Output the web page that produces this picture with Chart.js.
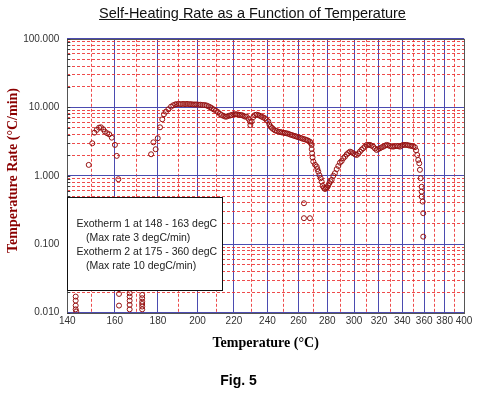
<!DOCTYPE html>
<html><head><meta charset="utf-8">
<script src="https://cdn.jsdelivr.net/npm/chart.js@4.4.0/dist/chart.umd.min.js"></script>
<style>
html,body{margin:0;padding:0;background:#fff;}
#wrap{position:relative;width:477px;height:394px;overflow:hidden;}
canvas{position:absolute;left:0;top:0;}
#title{position:absolute;left:0;width:505px;top:5px;text-align:center;font:14.5px "Liberation Sans",Arial,sans-serif;text-decoration:underline;color:#111;white-space:nowrap;}
#fig{position:absolute;left:0;width:477px;top:372px;text-align:center;font:bold 14px "Liberation Sans",Arial,sans-serif;color:#000;}
</style></head>
<body><div id="wrap"><canvas id="c" width="477" height="394" style="width:477px;height:394px"></canvas>
<div id="title">Self-Heating Rate as a Function of Temperature</div>
<div id="fig">Fig. 5</div></div>
<script>
// Temperature (degC) of each measured point
const temperatures = [
  143.4,143.4,143.4,143.4,143.6,
  140.3,140.3,140.3,
  148.8,150.3,151.2,152.2,153.2,154.0,155.0,155.7,156.7,157.6,158.7,160.1,160.9,161.6,
  161.9,161.9,166.7,166.7,166.7,166.7,166.7,172.5,172.5,172.5,172.5,172.5,172.5,
  176.7,177.8,178.9,179.9,181.0,182.1,182.9,183.9,185.1,186.4,187.5,188.5,189.2,190.3,191.4,192.5,193.5,194.5,195.6,196.6,197.6,198.6,199.6,200.7,201.7,202.7,203.8,204.9,205.9,206.8,207.6,208.7,209.9,211.0,212.1,213.0,214.0,215.0,215.9,217.0,218.0,218.7,219.8,220.8,221.6,222.6,223.5,224.5,225.5,226.4,227.4,228.5,229.4,229.6,230.4,231.4,232.4,233.4,234.4,235.4,236.4,237.4,238.5,239.5,240.5,241.2,242.0,242.8,243.6,244.7,245.8,247.0,248.0,249.0,250.1,251.1,252.2,253.3,254.4,255.5,256.6,257.7,258.8,259.9,261.0,262.1,263.2,264.4,265.5,266.6,267.8,268.4,269.0,269.0,269.3,269.6,270.1,271.3,272.5,273.0,273.6,274.4,275.3,276.0,276.7,277.5,278.4,279.2,280.0,280.7,281.5,282.3,283.2,284.4,285.6,286.9,288.1,289.3,290.6,291.8,293.1,294.4,295.6,296.9,298.1,299.4,300.8,302.1,303.4,304.6,305.9,307.2,308.6,310.0,311.2,312.6,313.9,315.3,316.7,318.1,319.5,320.8,322.2,323.6,325.0,326.4,327.8,329.2,330.7,332.1,333.5,335.0,336.4,337.9,339.3,340.8,342.3,343.9,345.4,346.9,348.4,349.9,351.4,352.5,353.5,354.4,355.4,356.0,356.7,357.6,357.6,357.6,358.6,359.1,359.1,
  263.7,263.7,267.8
];
// Self-heating rate (degC/min) of each measured point
const rates = [
  0.0172,0.0150,0.0127,0.0112,0.0104,
  0.35,0.30,0.26,
  1.44,2.98,4.26,4.67,5.04,5.10,4.77,4.41,4.17,4.03,3.60,2.82,1.95,0.89,
  0.0188,0.0127,0.0193,0.0172,0.0150,0.0130,0.0112,0.0182,0.0163,0.0145,0.0134,0.0123,0.0112,
  2.06,3.08,2.44,3.53,5.1,6.68,7.91,8.63,9.35,10.2,10.7,11.0,11.1,11.2,11.1,11.2,11.1,11.2,11.1,11.1,11.0,11.0,11.0,10.9,10.9,10.8,10.8,10.6,10.3,10.0,9.7,9.3,8.9,8.5,8.0,7.7,7.5,7.3,7.3,7.5,7.6,7.7,7.9,7.9,7.9,7.8,7.7,7.7,7.5,7.3,7.3,6.8,6.2,5.5,6.2,7.2,7.7,7.8,7.7,7.5,7.3,7.1,6.9,6.5,6.2,5.6,5.2,5.0,4.8,4.6,4.5,4.4,4.35,4.3,4.25,4.2,4.17,4.1,4.0,3.94,3.85,3.8,3.72,3.65,3.6,3.53,3.45,3.4,3.33,3.25,3.15,3.0,2.82,2.45,2.13,1.85,1.61,1.45,1.36,1.25,1.15,1.02,0.92,0.82,0.71,0.67,0.64,0.66,0.68,0.72,0.78,0.83,0.87,1.0,1.09,1.25,1.39,1.55,1.64,1.80,1.90,2.05,2.15,2.25,2.2,2.13,2.05,2.01,2.1,2.25,2.4,2.52,2.66,2.82,2.82,2.82,2.75,2.66,2.5,2.38,2.45,2.52,2.6,2.66,2.75,2.82,2.78,2.72,2.68,2.66,2.7,2.72,2.7,2.66,2.75,2.82,2.82,2.82,2.78,2.75,2.72,2.68,2.61,2.35,2.01,1.70,1.52,1.22,0.92,0.69,0.586,0.495,0.419,0.284,0.129,
  0.397,0.240,0.240
];
const xTickTemps = [140,150,160,170,180,190,200,210,220,230,240,250,260,270,280,290,300,310,320,330,340,350,360,370,380,390,400];
const yTickValues = [0.01,0.02,0.03,0.04,0.05,0.06,0.07,0.08,0.09,0.1,0.2,0.3,0.4,0.5,0.6,0.7,0.8,0.9,1,2,3,4,5,6,7,8,9,10,20,30,40,50,60,70,80,90,100];
const annotationLines = [
  "Exotherm 1 at 148 - 163 degC",
  "  (Max rate 3 degC/min)",
  "Exotherm 2 at 175 - 360 degC",
  "  (Max rate 10 degC/min)"
];

// Arrhenius-type axis: position proportional to -1/T(K)
const inv = t => -1000 / (t + 273.15);
const isDecade = v => Math.abs(Math.log10(v) - Math.round(Math.log10(v))) < 1e-6;
const BLUE = '#4b4bb0', RED = 'rgba(235,45,45,0.85)';

const points = temperatures.map((t, i) => ({x: inv(t), y: rates[i]}));

const framePlugin = {
  id: 'frameAndNote',
  afterDatasetsDraw(chart) {
    const {ctx, chartArea: a} = chart;
    ctx.save();
    ctx.strokeStyle = '#555';
    ctx.lineWidth = 1;
    ctx.strokeRect(Math.round(a.left) + 0.5, Math.round(a.top) + 0.5, Math.round(a.right - a.left), Math.round(a.bottom - a.top));
    // short inward tick marks on the left axis
    const ys = chart.scales.y;
    ctx.strokeStyle = '#333';
    ctx.beginPath();
    yTickValues.forEach(v => {
      const py = Math.round(ys.getPixelForValue(v)) + 0.5;
      ctx.moveTo(a.left, py); ctx.lineTo(a.left + 3, py);
    });
    ctx.stroke();
    // note box
    const bx = Math.round(a.left) + 0.5, by = 197.5, bw = 155, bh = 93;
    ctx.fillStyle = '#fff';
    ctx.fillRect(bx, by, bw, bh);
    ctx.strokeStyle = '#111';
    ctx.strokeRect(bx, by, bw, bh);
    ctx.fillStyle = '#222';
    ctx.font = '10.5px "Liberation Sans", Arial, sans-serif';
    ctx.textBaseline = 'middle';
    ctx.textAlign = 'left';
    annotationLines.forEach((s, i) => {
      const indent = s.startsWith('  ') ? 9.4 : 0;
      ctx.fillText(s.trim(), bx + 9 + indent, 224.5 + i * 14);
    });
    ctx.restore();
  }
};

new Chart(document.getElementById('c'), {
  type: 'scatter',
  data: { datasets: [{
    data: points,
    pointStyle: 'circle',
    pointRadius: 2.5,
    pointHoverRadius: 2.5,
    borderWidth: 1,
    borderColor: '#961212',
    backgroundColor: 'rgba(0,0,0,0)'
  }]},
  options: {
    responsive: false,
    animation: false,
    events: [],
    layout: { padding: { left: 4.6, top: 38.8, right: 13, bottom: 42.3 } },
    plugins: { legend: { display: false }, tooltip: { enabled: false }, title: { display: false } },
    scales: {
      x: {
        type: 'linear',
        min: inv(140), max: inv(400),
        afterBuildTicks: s => { s.ticks = xTickTemps.map(t => ({value: inv(t)})); },
        afterFit: s => { s.height = 39; },
        ticks: {
          autoSkip: false, maxRotation: 0, padding: 3,
          color: '#333',
          font: { family: '"Liberation Sans", Arial, sans-serif', size: 10 },
          callback: (v, i) => (xTickTemps[i] % 20 === 0 ? String(xTickTemps[i]) : '')
        },
        grid: {
          drawTicks: false,
          lineWidth: 1,
          color: c => (c.index !== undefined && xTickTemps[c.index] % 20 === 0 ? BLUE : RED)
        },
        border: {
          display: false,
          dash: c => (c.index !== undefined && xTickTemps[c.index] % 20 === 0 ? [] : [3, 2])
        },
        title: {
          display: true, text: 'Temperature (°C)', color: '#000',
          font: { family: '"Liberation Serif", "Times New Roman", serif', size: 14, weight: 'bold' },
          padding: { top: 0, bottom: 0 }
        }
      },
      y: {
        type: 'logarithmic',
        min: 0.01, max: 100,
        afterBuildTicks: s => { s.ticks = yTickValues.map(v => ({value: v})); },
        afterFit: s => { s.width = 62.7; },
        ticks: {
          autoSkip: false, padding: 8,
          color: '#333',
          font: { family: '"Liberation Sans", Arial, sans-serif', size: 10 },
          callback: (v, i) => (isDecade(yTickValues[i]) ? yTickValues[i].toFixed(3) : '')
        },
        grid: {
          drawTicks: false,
          lineWidth: 1,
          color: c => (c.index !== undefined && isDecade(yTickValues[c.index]) ? BLUE : RED)
        },
        border: {
          display: false,
          dash: c => (c.index !== undefined && isDecade(yTickValues[c.index]) ? [] : [3, 2])
        },
        title: {
          display: true, text: '   Temperature Rate (°C/min)', color: '#8b0000',
          font: { family: '"Liberation Serif", "Times New Roman", serif', size: 14, weight: 'bold' },
          padding: { top: 0, bottom: 0 }
        }
      }
    }
  },
  plugins: [framePlugin]
});
</script>
</body></html>
